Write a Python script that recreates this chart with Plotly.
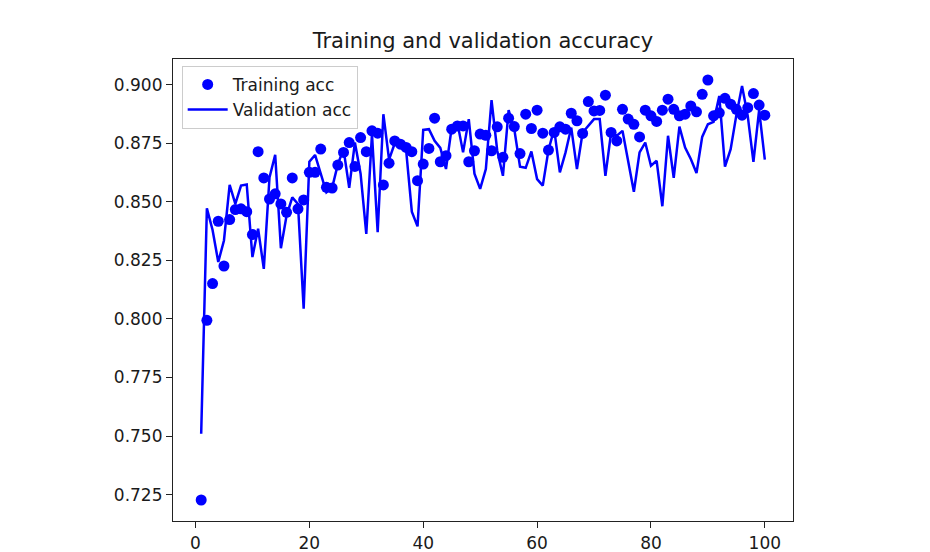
import plotly.graph_objects as go

epochs = list(range(1, 101))

training_acc = [
    0.7227, 0.7994, 0.8151, 0.8417, 0.8226, 0.8424, 0.8467, 0.8470, 0.8458, 0.8360,
    0.8714, 0.8602, 0.8512, 0.8534, 0.8491, 0.8455, 0.8602, 0.8470, 0.8508, 0.8626,
    0.8626, 0.8725, 0.8562, 0.8559, 0.8657, 0.8711, 0.8753, 0.8651, 0.8774, 0.8714,
    0.8803, 0.8793, 0.8572, 0.8665, 0.8760, 0.8746, 0.8732, 0.8714, 0.8590, 0.8661,
    0.8728, 0.8857, 0.8671, 0.8697, 0.8810, 0.8824, 0.8824, 0.8671, 0.8718, 0.8789,
    0.8784, 0.8718, 0.8820, 0.8690, 0.8857, 0.8821, 0.8706, 0.8874, 0.8813, 0.8891,
    0.8793, 0.8721, 0.8796, 0.8820, 0.8810, 0.8878, 0.8846, 0.8792, 0.8928, 0.8888,
    0.8890, 0.8955, 0.8796, 0.8760, 0.8895, 0.8853, 0.8831, 0.8777, 0.8891, 0.8867,
    0.8843, 0.8891, 0.8938, 0.8895, 0.8867, 0.8874, 0.8909, 0.8884, 0.8959, 0.9020,
    0.8867, 0.8880, 0.8942, 0.8917, 0.8895, 0.8870, 0.8902, 0.8962, 0.8913, 0.8870,
]

validation_acc = [
    0.7510, 0.8472, 0.8380, 0.8243, 0.8335, 0.8572, 0.8491, 0.8569, 0.8574, 0.8264,
    0.8385, 0.8214, 0.8604, 0.8701, 0.8302, 0.8441, 0.8519, 0.8491, 0.8044, 0.8671,
    0.8700, 0.8620, 0.8540, 0.8560, 0.8660, 0.8725, 0.8560, 0.8753, 0.8620, 0.8363,
    0.8789, 0.8370, 0.8874, 0.8680, 0.8750, 0.8740, 0.8720, 0.8458, 0.8395, 0.8807,
    0.8810, 0.8760, 0.8730, 0.8640, 0.8817, 0.8838, 0.8711, 0.8853, 0.8620, 0.8555,
    0.8640, 0.8934, 0.8718, 0.8611, 0.8891, 0.8810, 0.8650, 0.8645, 0.8715, 0.8597,
    0.8569, 0.8721, 0.8810, 0.8626, 0.8711, 0.8817, 0.8640, 0.8796, 0.8824, 0.8853,
    0.8853, 0.8611, 0.8796, 0.8782, 0.8803, 0.8675, 0.8543, 0.8711, 0.8753, 0.8654,
    0.8675, 0.8481, 0.8782, 0.8602, 0.8821, 0.8732, 0.8683, 0.8623, 0.8777, 0.8831,
    0.8841, 0.8952, 0.8650, 0.8725, 0.8870, 0.8994, 0.8867, 0.8671, 0.8891, 0.8680,
]

x_ticks = [0, 20, 40, 60, 80, 100]
y_ticks = [0.725, 0.750, 0.775, 0.800, 0.825, 0.850, 0.875, 0.900]
y_tick_labels = ["0.725", "0.750", "0.775", "0.800", "0.825", "0.850", "0.875", "0.900"]

title_text = "Training and validation accuracy"

# matplotlib-style 5% auto margins
xmin, xmax = min(epochs), max(epochs)
xpad = (xmax - xmin) * 0.05
all_y = training_acc + validation_acc
ymin, ymax = min(all_y), max(all_y)
ypad = (ymax - ymin) * 0.05

fig = go.Figure()
fig.add_trace(go.Scatter(
    x=epochs, y=training_acc, mode="markers", name="Training acc",
    marker=dict(color="#0000ff", size=11, line=dict(width=0)),
))
fig.add_trace(go.Scatter(
    x=epochs, y=validation_acc, mode="lines", name="Validation acc",
    line=dict(color="#0000ff", width=2.5),
))

font_family = "DejaVu Sans, Liberation Sans, sans-serif"

fig.update_layout(
    width=930, height=552,
    margin=dict(l=173, r=137, t=59, b=31, pad=0, autoexpand=False),
    paper_bgcolor="white", plot_bgcolor="white",
    font=dict(family=font_family, size=17, color="#1a1a1a"),
    title=dict(text=title_text, x=0.5, xref="paper", xanchor="center",
               y=1 - 41 / 552, yref="container", yanchor="middle",
               font=dict(size=21, color="#1a1a1a")),
    showlegend=True,
    legend=dict(x=0.014, y=0.985, xanchor="left", yanchor="top",
                bgcolor="rgba(255,255,255,0.8)", bordercolor="#cccccc", borderwidth=1,
                font=dict(size=17, color="#1a1a1a"), itemwidth=40, tracegroupgap=6,
                entrywidth=0),
)

fig.update_xaxes(
    range=[xmin - xpad, xmax + xpad], tickmode="array", tickvals=x_ticks,
    ticks="outside", ticklen=6, tickwidth=1.2, tickcolor="#222",
    showline=True, linecolor="#222", linewidth=1.2, mirror=True,
    showgrid=False, zeroline=False, automargin=False,
)
fig.update_yaxes(
    range=[ymin - ypad, ymax + ypad], tickmode="array", tickvals=y_ticks, ticktext=y_tick_labels,
    ticks="outside", ticklen=6, tickwidth=1.2, tickcolor="#222",
    showline=True, linecolor="#222", linewidth=1.2, mirror=True,
    showgrid=False, zeroline=False, automargin=False,
)

fig.write_html("out.html")
